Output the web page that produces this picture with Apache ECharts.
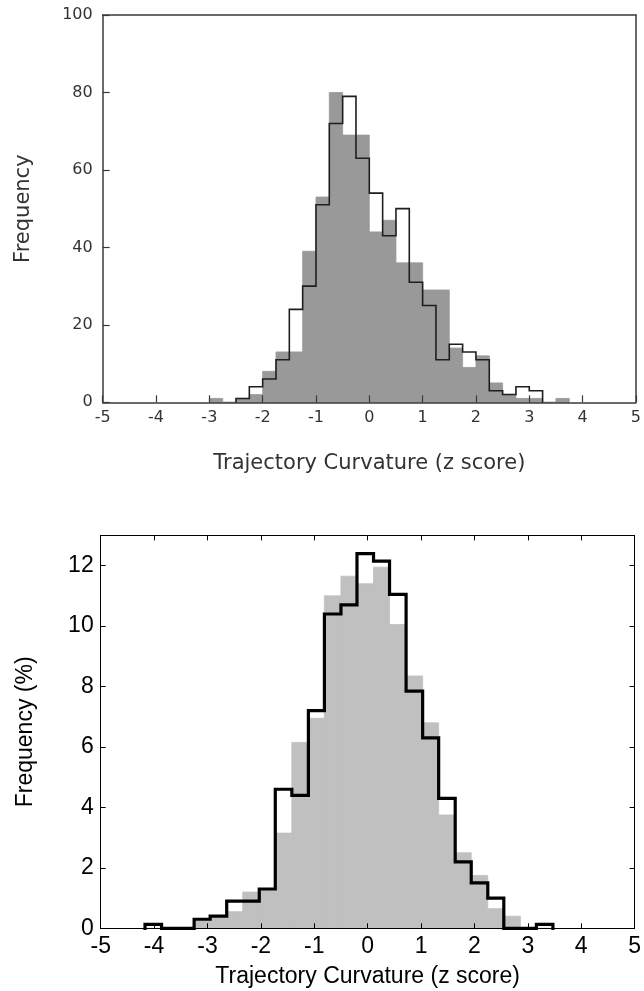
<!DOCTYPE html>
<html>
<head>
<meta charset="utf-8">
<script src="https://cdn.jsdelivr.net/npm/echarts@6/dist/echarts.min.js"></script>
<style>
  html, body { margin: 0; padding: 0; background: #fff; }
  #chart { width: 644px; height: 991px; }
</style>
</head>
<body>
<div id="chart"></div>
<script>
// top panel: bins of 0.25
const topEdges = [-3, -2.75, -2.5, -2.25, -2, -1.75, -1.5, -1.25, -1, -0.75, -0.5, -0.25, 0,
    0.25, 0.5, 0.75, 1, 1.25, 1.5, 1.75, 2, 2.25, 2.5, 2.75, 3, 3.25, 3.5, 3.75];
const topGray = [1, 0, 1, 2, 8, 13, 13, 39, 53, 80, 69, 69, 44, 47, 36, 36, 29, 29, 14, 9, 12, 5, 2, 1, 1, 0, 1];
const topOutline = [0, 0, 1, 4, 6, 11, 24, 30, 51, 72, 79, 63, 54, 43, 50, 31, 25, 11, 15, 13, 11, 3, 2, 4, 3, 0, 0];

// bottom panel: 25 bins between min and max
const bottomEdges = [-4.17, -3.86, -3.56, -3.25, -2.95, -2.64, -2.34, -2.03, -1.73, -1.42, -1.11, -0.81, -0.50,
    -0.20, 0.11, 0.41, 0.72, 1.03, 1.33, 1.64, 1.94, 2.25, 2.55, 2.86, 3.16, 3.47];
const bottomGray = [0, 0, 0, 0.25, 0.4, 0.55, 1.2, 1.25, 3.15, 6.15, 6.95, 11.0, 11.65, 11.4, 11.95,
    10.05, 8.35, 6.8, 3.75, 2.5, 1.75, 0.65, 0.4, 0, 0];
const bottomOutline = [0.13, 0, 0, 0.3, 0.4, 0.9, 0.9, 1.3, 4.6, 4.4, 7.2, 10.4, 10.7, 12.4, 12.15,
    11.05, 7.85, 6.3, 4.3, 2.2, 1.5, 1.0, 0, 0, 0.13];

const xTitle = 'Trajectory Curvature (z score)';

function barData(edges, values) {
    return values.map((v, i) => [edges[i], edges[i + 1], v]);
}

// stairs outline, trimmed to the non-empty range
function outlineData(edges, values) {
    const first = values.findIndex(v => v > 0);
    let last = values.length - 1;
    while (values[last] === 0) last--;
    const pts = [[edges[first], 0]];
    for (let i = first; i <= last; i++) pts.push([edges[i], values[i]]);
    pts.push([edges[last + 1], 0]);
    return pts;
}

function barSeries(idx, data, color) {
    return {
        type: 'custom',
        xAxisIndex: idx,
        yAxisIndex: idx,
        data: data,
        encode: { x: [0, 1], y: 2 },
        renderItem: (params, api) => {
            const p0 = api.coord([api.value(0), api.value(2)]);
            const p1 = api.coord([api.value(1), 0]);
            return {
                type: 'rect',
                shape: { x: p0[0], y: p0[1], width: p1[0] - p0[0], height: p1[1] - p0[1] },
                style: { fill: color, stroke: color, lineWidth: 0.8 }
            };
        },
        z: 2
    };
}

function stepSeries(idx, data, color, width) {
    return {
        type: 'line',
        xAxisIndex: idx,
        yAxisIndex: idx,
        data: data,
        step: 'end',
        showSymbol: false,
        lineStyle: { color: color, width: width, join: 'miter', cap: 'square' },
        z: 3
    };
}

const topFont = { fontFamily: 'DejaVu Sans', color: '#333' };
const botFont = { fontFamily: 'Liberation Sans', color: '#000' };
const topLine = { onZero: false, lineStyle: { color: '#3a3a3a', width: 1.5 } };
const botLine = { onZero: false, lineStyle: { color: '#000', width: 1 } };

const chart = echarts.init(document.getElementById('chart'), null, { renderer: 'canvas' });

chart.setOption({
    animation: false,
    backgroundColor: '#fff',
    grid: [
        { left: 102.7, top: 15, width: 535.6, height: 387.3 },
        { left: 100.7, top: 535.4, width: 534.3, height: 392.9 }
    ],
    xAxis: [
        {
            gridIndex: 0, type: 'value', position: 'bottom', min: -5, max: 5, interval: 1, z: 10,
            axisLine: topLine,
            axisTick: { inside: true, length: 7, lineStyle: { color: '#3a3a3a', width: 1.2 } },
            axisLabel: Object.assign({ fontSize: 16, margin: 8 }, topFont),
            splitLine: { show: false },
            name: xTitle, nameLocation: 'middle', nameGap: 51,
            nameTextStyle: Object.assign({ fontSize: 21 }, topFont)
        },
        {
            gridIndex: 0, type: 'value', position: 'top', min: -5, max: 5, interval: 1, z: 10,
            axisLine: topLine, axisTick: { show: false }, axisLabel: { show: false },
            splitLine: { show: false }
        },
        {
            gridIndex: 1, type: 'value', position: 'bottom', min: -5, max: 5, interval: 1, z: 10,
            axisLine: botLine,
            axisTick: { inside: true, length: 5, lineStyle: { color: '#000' } },
            axisLabel: Object.assign({ fontSize: 23, margin: 7 }, botFont),
            splitLine: { show: false },
            name: xTitle, nameLocation: 'middle', nameGap: 37,
            nameTextStyle: Object.assign({ fontSize: 23 }, botFont)
        },
        {
            gridIndex: 1, type: 'value', position: 'top', min: -5, max: 5, interval: 1, z: 10,
            axisLine: botLine,
            axisTick: { inside: true, length: 5, lineStyle: { color: '#000' } },
            axisLabel: { show: false }, splitLine: { show: false }
        }
    ],
    yAxis: [
        {
            gridIndex: 0, type: 'value', position: 'left', min: 0, max: 100, interval: 20, z: 10,
            axisLine: topLine,
            axisTick: { inside: true, length: 7, lineStyle: { color: '#3a3a3a', width: 1.2 } },
            axisLabel: Object.assign({ fontSize: 16, margin: 10 }, topFont),
            splitLine: { show: false },
            name: 'Frequency', nameLocation: 'middle', nameGap: 69,
            nameTextStyle: Object.assign({ fontSize: 21 }, topFont)
        },
        {
            gridIndex: 0, type: 'value', position: 'right', min: 0, max: 100, interval: 20, z: 10,
            axisLine: topLine, axisTick: { show: false }, axisLabel: { show: false },
            splitLine: { show: false }
        },
        {
            gridIndex: 1, type: 'value', position: 'left', min: 0, max: 13, interval: 2, z: 10,
            axisLine: botLine,
            axisTick: { inside: true, length: 5, lineStyle: { color: '#000' } },
            axisLabel: Object.assign({ fontSize: 23, margin: 7, showMaxLabel: false }, botFont),
            splitLine: { show: false },
            name: 'Frequency (%)', nameLocation: 'middle', nameGap: 64,
            nameTextStyle: Object.assign({ fontSize: 23 }, botFont)
        },
        {
            gridIndex: 1, type: 'value', position: 'right', min: 0, max: 13, interval: 2, z: 10,
            axisLine: botLine,
            axisTick: { inside: true, length: 5, lineStyle: { color: '#000' } },
            axisLabel: { show: false }, splitLine: { show: false }
        }
    ],
    series: [
        barSeries(0, barData(topEdges, topGray), '#999999'),
        stepSeries(0, outlineData(topEdges, topOutline), '#1e1e1e', 1.6),
        Object.assign(barSeries(2, barData(bottomEdges, bottomGray), '#c0c0c0'), { yAxisIndex: 2 }),
        Object.assign(stepSeries(2, outlineData(bottomEdges, bottomOutline), '#000', 3.2), { yAxisIndex: 2 })
    ]
});
</script>
</body>
</html>
